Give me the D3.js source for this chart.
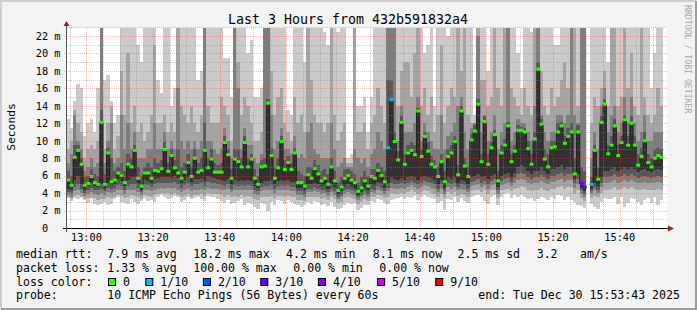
<!DOCTYPE html>
<html>
<head>
<meta charset="utf-8">
<script src="https://cdn.jsdelivr.net/npm/d3@7"></script>
<style>
  body { margin: 0; background: #fff; }
  svg text { font-family: "DejaVu Sans Mono", monospace; white-space: pre; }
</style>
</head>
<body>
<div id="chart"></div>
<script>
// smokeping style graph: 180 one-minute columns, 10 pings each
// median (= 6th sorted ping) plus the other pings as smoke bands

var med = [
  5.5,4.9,8.1,8.9,7.3,4.9,5.1,5.9,5.2,5.0,12.1,5.0,8.6,5.3,5.5,
  6.3,6.0,5.2,7.3,7.0,8.9,5.7,4.8,6.3,6.3,5.7,6.6,6.5,6.8,9.0,
  6.5,8.3,6.9,6.3,5.7,6.4,7.5,5.9,8.0,6.4,6.6,8.9,6.9,7.9,6.4,
  6.4,6.4,9.8,8.4,5.7,7.9,7.6,7.0,9.8,7.0,7.9,5.7,5.0,7.0,7.1,
  14.3,8.3,5.7,6.9,9.9,6.7,7.5,6.7,8.6,5.2,5.2,4.8,6.1,5.7,6.8,
  6.2,5.4,5.7,5.0,7.0,5.4,4.3,4.7,5.7,6.0,5.5,5.2,4.2,4.6,5.4,
  4.8,5.9,5.7,6.6,6.0,5.3,9.2,14.7,9.9,7.8,12.1,7.3,8.6,8.9,8.4,
  13.4,8.2,10.5,8.8,7.3,7.0,5.9,7.6,5.3,8.2,8.6,9.9,6.1,13.4,7.1,
  5.9,10.1,11.1,14.2,7.6,12.2,7.3,9.2,10.7,5.4,8.6,9.5,11.7,7.6,8.8,
  11.2,11.2,11.0,9.1,7.3,10.2,18.2,11.9,7.9,7.0,9.2,9.3,11.0,11.7,9.7,
  10.5,11.0,6.2,11.0,5.1,4.7,null,5.0,8.9,5.6,12.1,14.2,8.5,9.5,11.7,
  8.3,9.8,12.4,9.5,12.0,9.5,7.2,8.2,10.0,7.5,7.0,8.0,8.3,8.1,null
];

// upper pings: hi1 = slowest, hi4 = 7th
var hi1 = [
  12.5,11.5,14.5,16.5,16,10.5,12,12.5,11,16,28,17,17.5,14.5,12,
  13,25,25,25,25,25,21,19,25,25,25,25,17,15.5,25,
  25,14,16,25,25,25,25,25,25,17,18,25,25,25,25,
  25,25,19.5,19.5,15,25,25,25,25,20,21.5,15,15,16,25,
  25,25,25,25,25,25,13.5,13,25,25,25,19,25,25,25,
  25,25,22.5,21,25,25,22.5,25,25,8,8.5,28,14,14,15,
  11,15,25,25,25,25,28,28,28,25,25,25,25,25,25,
  25,25,20,21,25,14,25,25,25,22,25,25,25,25,25,
  25,25,13,25,25,25,18,25,25,25,25,25,25,25,25,
  20,16,25,25,22.5,28,28,28,25,25,25,21,21,25,25,
  25,28,25,25,28,28,null,25,25,25,25,25,19,25,25,
  25,25,25,25,25,25,25,25,25,25,16,20,25,25,null
];
var hi2 = [
  9,10,13.5,12,11,8,9,9.5,9,10,26,9,12,14,9,
  10.5,18,13,20,12,14,11,12,10,11,13,21,12,12,13,
  11,12,11,25,14,13,12,14,12,11,13,25,14,12,12,
  12,15,14,13,10,25,19,13,15,14,12,10,10,11,25,
  25,18,13,15,16,12,11,10,15,12,13,11,25,17,13,
  12,12,11,12,25,13,10,11,12,7.5,7.5,26,11,11,12,
  9,12,13,16,14,12,26,26,26,14,18,19,19,15,20,
  25,14,16,13,15,11,13,21,12,14,16,15,25,18,25,
  13,12,12,25,17,17,14,15,25,16,14,25,25,16,15,
  14,13,16,14,13,26,26,18,14,13,16,14,15,17,19,
  16,26,25,14,25,26,null,12,15,14,16,18,14,25,25,
  14,15,25,16,20,14,13,25,15,13,12,13,16,14,null
];
var hi3 = [
  7.5,8.5,12.9,10,9,6.5,7,8,7,7.5,24,7.5,10,12,7.5,
  8,13,9,12,9,11,8,8,8,9,9,12,9,9,11,
  9,10,9,16,10,9,10,9,10,9,10,24,10,10,9,
  8.5,9,11.5,10,8,25,16,9,11.5,9.5,9.5,8,7.5,8.5,24,
  24,13,9,10,11.5,9,9,8.5,10.5,8,8.5,8,11,12,9,
  8.5,8,8,8,12,9,7,7.5,8,7,7,9,8,7.5,8,
  7,8.5,9,11,10,9,24,24,24,10,14,11,11,11,12,
  15,10,12,11,10,9,9,13,9,10.5,11,12,14,15,11,
  9,11.5,12,22,11,13,10,11,13,9,11,12,24,10,11,
  12.5,12,12,11,10,14,24,13,11,10,11,11,13,13,12,
  13,24,13,12,24,24,null,8,11,9,14,16,11,13,14,
  11,12,15,12,15,12,10,11,13,10,10,11,11,11,null
];
var hi4 = [
  6.5,6,9.5,9.5,8,5.8,6,6.8,6.2,6,13.5,6.2,9.2,8,6.5,
  7,7.5,6.5,8.5,8,9.5,7,6,7,7.5,7,8,7.5,7.8,9.8,
  7.5,9,7.8,9,7,7.5,8.5,7,9,7.5,8,12,8,9,7.5,
  7.2,7.5,10.5,9,6.8,9,9,8,10.5,8,8.5,6.8,6,7.8,8,
  14.8,9.2,7,8,10.5,7.8,8.2,7.5,9.2,6.5,6.2,6,7,7,7.8,
  7.2,6.5,6.8,6.2,8,6.5,5.2,5.8,6.8,6.8,6.5,6.2,5.2,5.8,6.5,
  5.8,6.8,6.8,7.5,7,6.5,17,17,11,8.8,12.8,8.5,9.5,9.8,9.5,
  13.8,9,11,9.8,8.2,7.8,7,8.5,6.5,9,9.5,10.5,7.2,14,8,
  7,10.8,11.8,14.8,8.5,12.8,8.5,9.8,11.2,6.5,9.5,10.2,12.2,8.5,9.5,
  11.8,11.6,11.5,10,8.5,11,19,12.5,9,8.5,10,10,12,12.2,10.5,
  11.5,12,8,11.8,7,6.5,null,5.8,9.5,7,12.8,14.8,9.5,10.5,12.5,
  9.5,10.5,13,10.5,12.8,10.5,8.5,9.2,11,8.5,8,9,9.2,9,null
];

// lower pings: lo1 = fastest, lo5 = 5th
var lo5 = [
  4.5,4.3,5.5,6,5,4.4,4.8,5.2,4.8,4.7,5,4.5,5.2,4.9,5,
  5.6,5.4,4.8,5.5,5.8,5.8,5.1,4.4,5.6,5.4,5.2,5.6,5.7,5.8,5.8,
  5.8,5.7,6,5.7,5.1,5.5,5.8,5.3,5.6,5.6,5.7,5.4,6,5.8,5.7,
  5.6,5.5,5.4,5.6,5,5.5,5.4,5.5,5.4,5.5,5.4,4.8,4.6,5.2,5.4,
  5.4,5.5,5,5.4,5.5,5.4,5.5,5.3,5.3,4.6,4.6,4.3,5,5,5.2,
  5,4.8,4.9,4.5,5,4.7,3.9,4.2,4.8,5,4.8,4.6,3.8,4.1,4.6,
  4.3,5,4.9,5.3,5.1,4.6,5.2,5.8,5.6,5.5,5.7,5.5,5.8,6,5.8,
  5.5,5.8,6,5.9,5.7,5.5,5,5.5,4.6,5.8,5.6,5.8,5.2,5.5,5.4,
  5,5.9,6,6.2,5.8,6,5.6,6,6.2,4.7,6,6.2,6.3,5.9,6.3,
  7,7.2,7,6.5,6.2,6.5,6.5,7,6.5,6.2,6.8,6.8,7,7.2,6.8,
  7,7,5.6,6.2,4.6,4.2,null,4.5,5.2,4.8,5.8,6.5,6.5,6.8,7,
  6.5,6.8,7,6.8,7,6.8,6.4,6.6,6.8,6.5,6.4,6.6,6.8,6.6,null
];
var lo4 = [
  4.1,4,4.7,5,4.5,4,4.3,4.6,4.4,4.3,4.5,4.2,4.6,4.5,4.6,
  4.9,4.8,4.4,4.8,5,5,4.6,4.1,5,4.9,4.7,5,5.1,5.2,5.1,
  5.2,5.1,5.3,5,4.6,4.9,5.1,4.8,5,5,5.1,4.8,5.3,5.2,5.1,
  5,4.9,4.8,5,4.5,4.9,4.8,4.9,4.8,4.9,4.8,4.3,4.2,4.7,4.8,
  4.8,4.9,4.5,4.8,4.9,4.8,4.9,4.7,4.7,4.2,4.2,3.9,4.5,4.5,4.7,
  4.5,4.3,4.4,4.1,4.5,4.2,3.6,3.8,4.3,4.5,4.3,4.2,3.5,3.8,4.2,
  3.9,4.5,4.4,4.8,4.6,4.2,4.6,5.1,5,5,5.1,5,5.2,5.4,5.2,
  5,5.2,5.4,5.3,5.1,5,4.5,5,4.2,5.2,5,5.2,4.7,5,4.9,
  4.5,5.3,5.4,5.6,5.2,5.4,5,5.4,5.6,4.3,5.4,5.6,5.7,5.3,5.7,
  6.2,6.3,6.2,5.8,5.6,5.8,5.8,6.1,5.8,5.6,6,6,6.2,6.3,6,
  6.2,6.2,5.1,5.6,4.3,3.9,null,4.2,4.7,4.4,5.2,5.8,5.8,6,6.2,
  5.8,6,6.2,6,6.2,6,5.7,5.9,6,5.8,5.7,5.9,6,5.9,null
];
var lo3 = [
  3.8,3.6,4.2,4.4,4,3.7,3.9,4.1,3.9,3.8,4,3.8,4.1,4,4.1,
  4.3,4.3,3.9,4.3,4.4,4.4,4.1,3.8,4.4,4.3,4.2,4.4,4.5,4.6,4.5,
  4.6,4.5,4.6,4.4,4.1,4.3,4.5,4.2,4.4,4.4,4.5,4.3,4.6,4.5,4.5,
  4.5,4.4,4.3,4.5,4.1,4.4,4.3,4.4,4.3,4.3,4.3,3.9,3.8,4.2,4.3,
  4.3,4.4,4,4.3,4.4,4.3,4.4,4.2,4.2,3.8,3.8,3.6,4.1,4.1,4.2,
  4.1,3.9,4,3.7,4.1,3.8,3.3,3.5,3.9,4.1,3.9,3.8,3.2,3.5,3.8,
  3.6,4.1,4,4.4,4.2,3.9,4.2,4.6,4.5,4.5,4.6,4.5,4.7,4.9,4.7,
  4.5,4.7,4.9,4.8,4.6,4.5,4.1,4.5,3.9,4.7,4.5,4.7,4.3,4.5,4.4,
  4.1,4.8,4.9,5,4.7,4.9,4.5,4.9,5,3.9,4.9,5,5.1,4.8,5.1,
  5.5,5.6,5.5,5.2,5,5.2,5.2,5.4,5.2,5,5.3,5.3,5.5,5.6,5.3,
  5.5,5.5,4.6,5,3.9,3.6,null,3.9,4.3,4,4.7,5.2,5.2,5.3,5.5,
  5.2,5.3,5.5,5.3,5.5,5.3,5.1,5.2,5.3,5.2,5.1,5.2,5.3,5.2,null
];
var lo2 = [
  3.5,3.3,3.7,3.8,3.6,3.3,3.4,3.6,3.4,3.2,3.3,3.3,3.5,3.4,3.6,
  3.8,3.7,3.4,3.6,3.8,3.7,3.5,3.3,3.8,3.7,3.6,3.8,3.9,4,3.9,
  4,3.8,4,3.8,3.6,3.7,3.9,3.6,3.8,3.8,3.9,3.7,4,3.9,3.9,
  3.9,3.8,3.6,3.8,3.5,3.7,3.6,3.8,3.6,3.7,3.6,3.3,3.2,3.6,3.6,
  3.6,3.7,3.4,3.7,3.7,3.6,3.7,3.6,3.5,3.2,3.2,3.1,3.5,3.5,3.6,
  3.5,3.3,3.4,3.2,3.5,3.3,2.9,3,3.4,3.5,3.4,3.3,2.8,3,3.3,
  3.1,3.6,3.5,3.8,3.7,3.4,3.6,4,3.9,3.9,4,3.9,4.1,4.3,4.1,
  3.9,4.1,4.3,4.2,4,3.9,3.6,3.9,3.4,4.1,3.9,4.1,3.7,3.9,3.8,
  3.6,4.2,4.3,4.4,4.1,4.3,3.9,4.3,4.4,3.4,4.3,4.4,4.5,4.2,4.5,
  4.6,4.8,4.7,4.4,4.2,4.4,4.4,4.6,4.4,4.2,4.5,4.5,4.7,4.8,4.5,
  4.7,4.7,3.9,4.3,3.4,3.1,null,3.4,3.7,3.5,4,4.4,4.4,4.5,4.7,
  4.4,4.5,4.7,4.5,4.7,4.5,4.3,4.4,4.5,4.4,4.3,4.4,4.5,4.4,null
];
var lo1 = [
  3.4,3.1,3.4,3.3,3.5,3.2,2.9,3.3,2.8,2.6,2.7,3,2.6,2.8,3.3,
  3.5,3,2.9,2.7,3.3,3,2.8,3.1,3.4,3.1,3.2,3,3.6,3.8,3.6,
  3.3,3.4,3.7,3.5,3,3.2,3.6,3.3,3.4,3.5,3.3,3.1,3.7,3.6,3.6,
  3.3,3.1,2.9,3.2,2.8,2.9,3.1,3.3,2.6,2.9,2.7,2.4,2.2,2.9,2.8,
  2,3,2.6,3.2,3.1,2.7,3.2,3,2.8,2.6,2.4,2.6,3,2.8,3.1,
  3,2.6,2.8,2.5,3,2.4,2.2,2.3,2.6,2.9,2.7,2.9,2.1,2.3,2.6,
  2.6,3.1,3,3.3,3.2,2.9,2.8,3.2,3.3,3.4,3.5,3.3,3.6,3.4,3.7,
  3.2,3.5,3.8,3.6,3.4,3.3,2.9,3.1,2.1,3.3,3.2,3.5,3,3.4,3.1,
  2.9,3.6,3.7,3.8,3.5,3.1,2.7,3.5,3.8,2.6,3.6,3.9,4,3.4,3.8,
  3.6,3.8,3.5,3.3,3.4,3.1,3.3,3.5,3.4,3.2,3.6,3.3,3.8,3.7,3.2,
  3.6,3.2,3,2.6,2.5,2.3,null,2.8,2.4,2.2,3,3.4,3.3,3.3,3.6,
  2.7,3.5,2.4,2.9,3.4,3.3,3,2.6,3.2,3.4,2.9,3.5,2.6,3.2,null
];

// columns that lost pings: [column, lost out of 10]
var lossCols = [[96, 1], [97, 1], [154, 3], [155, 3], [156, 10], [157, 1]];

var lossLabels = ["0", "1/10", "2/10", "3/10", "4/10", "5/10", "9/10"];
var lossSteps = [0, 1, 2, 3, 4, 5, 9];
var lossColors = ["#26ff00", "#00b8ff", "#0059ff", "#5e00ff", "#7e00ff", "#dd00ff", "#ff0000"];

var yTicks = [0, 2, 4, 6, 8, 10, 12, 14, 16, 18, 20, 22];

var legendRtt = ["7.9 ms avg", "18.2 ms max", "4.2 ms min", "8.1 ms now", "2.5 ms sd", "3.2", "am/s"];
var legendLoss = ["1.33 % avg", "100.00 % max", "0.00 % min", "0.00 % now"];

var svgWidth = 697;
var svgHeight = 310;

var startTime = new Date(2025, 11, 30, 12, 53, 43);
var endTime = new Date(2025, 11, 30, 15, 53, 43);
var firstCol = new Date(2025, 11, 30, 12, 54, 0);

// canvas (white plot area)
var canvas = { left: 67, right: 667, top: 28, bottom: 228 };

var x = d3.scaleTime().domain([startTime, endTime]).range([65.5, 665.5]);
var y = d3.scaleLinear().domain([0, 23]).range([228, 27.3]);

var svg = d3.select("#chart")
  .append("svg")
  .attr("width", svgWidth)
  .attr("height", svgHeight);

// background and 3d frame
svg.append("rect").attr("width", svgWidth).attr("height", svgHeight).attr("fill", "#f3f3f3");
svg.append("path").attr("d", "M1,309V1H696").attr("fill", "none").attr("stroke", "#cfcfcf").attr("stroke-width", 2);
svg.append("path").attr("d", "M1,309H696V1").attr("fill", "none").attr("stroke", "#9c9c9c").attr("stroke-width", 2);

svg.append("rect")
  .attr("x", canvas.left).attr("y", canvas.top)
  .attr("width", canvas.right - canvas.left).attr("height", canvas.bottom - canvas.top)
  .attr("fill", "#ffffff");

svg.append("clipPath").attr("id", "clip")
  .append("rect")
  .attr("x", canvas.left).attr("y", canvas.top)
  .attr("width", canvas.right - canvas.left).attr("height", canvas.bottom - canvas.top);

var plotG = svg.append("g").attr("clip-path", "url(#clip)");

// build column objects
var lossOf = {};
lossCols.forEach(function(d) { lossOf[d[0]] = d[1]; });

var columns = med.map(function(m, i) {
  var t0 = d3.timeMinute.offset(firstCol, i);
  var t1 = d3.timeMinute.offset(firstCol, i + 1);
  var pings = [lo1[i], lo2[i], lo3[i], lo4[i], lo5[i], m, hi4[i], hi3[i], hi2[i], hi1[i]];
  var ok = pings.every(function(p) { return p !== null; });
  return {
    i: i,
    x0: x(t0),
    x1: x(t1),
    med: m,
    pings: ok ? pings.slice().sort(d3.ascending) : null,
    loss: lossOf[i] || 0
  };
});

// smoke: outer pair lightest, inner pair darkest
var shades = ["#cacaca", "#a4a4a4", "#7e7e7e", "#585858", "#323232"];
shades.forEach(function(color, k) {
  plotG.selectAll(".smoke" + k)
    .data(columns.filter(function(c) { return c.pings; }))
    .enter()
    .append("rect")
    .attr("x", function(c) { return c.x0; })
    .attr("width", function(c) { return c.x1 - c.x0 + 0.05; })
    .attr("y", function(c) { return y(c.pings[9 - k]); })
    .attr("height", function(c) { return y(c.pings[k]) - y(c.pings[9 - k]); })
    .attr("fill", color)
    .attr("shape-rendering", "crispEdges");
});

// grid, dotted, drawn over the smoke
var gridG = svg.append("g").attr("shape-rendering", "crispEdges");
var minorY = d3.range(1, 24).filter(function(v) { return v % 2 !== 0; });
var majorY = d3.range(2, 24, 2);
var minorX = d3.timeMinute.every(5).range(startTime, endTime)
  .filter(function(t) { return t.getMinutes() % 20 !== 0; });
var majorX = d3.timeMinute.every(20).range(startTime, endTime);

function px(v) { return Math.round(v) + 0.5; }

var minorColor = "rgba(140,140,140,0.45)";
var majorColor = "rgba(235,60,60,0.36)";

gridG.selectAll(".ymin").data(minorY).enter().append("line")
  .attr("x1", canvas.left).attr("x2", canvas.right)
  .attr("y1", function(d) { return px(y(d)); }).attr("y2", function(d) { return px(y(d)); })
  .attr("stroke", minorColor).attr("stroke-dasharray", "1,1");
gridG.selectAll(".xmin").data(minorX).enter().append("line")
  .attr("y1", canvas.top).attr("y2", canvas.bottom + 2)
  .attr("x1", function(d) { return px(x(d)); }).attr("x2", function(d) { return px(x(d)); })
  .attr("stroke", minorColor).attr("stroke-dasharray", "1,1");
gridG.selectAll(".ymaj").data(majorY).enter().append("line")
  .attr("x1", canvas.left - 3).attr("x2", canvas.right)
  .attr("y1", function(d) { return px(y(d)); }).attr("y2", function(d) { return px(y(d)); })
  .attr("stroke", majorColor).attr("stroke-dasharray", "1,1");
gridG.selectAll(".xmaj").data(majorX).enter().append("line")
  .attr("y1", canvas.top).attr("y2", canvas.bottom + 3)
  .attr("x1", function(d) { return px(x(d)); }).attr("x2", function(d) { return px(x(d)); })
  .attr("stroke", majorColor).attr("stroke-dasharray", "1,1");

// median line (black steps), then coloured median marks
var medPts = [];
columns.forEach(function(c) {
  medPts.push({ x: c.x0, v: c.med });
  medPts.push({ x: c.x1, v: c.med });
});
var medLine = d3.line()
  .defined(function(d) { return d.v !== null; })
  .x(function(d) { return d.x; })
  .y(function(d) { return y(d.v); });
plotG.append("path")
  .attr("d", medLine(medPts))
  .attr("fill", "none")
  .attr("stroke", "#202020")
  .attr("stroke-width", 1);

function lossColor(n) {
  var idx = 0;
  lossSteps.forEach(function(s, j) { if (n >= s) idx = j; });
  return lossColors[idx];
}

plotG.selectAll(".medmark")
  .data(columns.filter(function(c) { return c.med !== null; }))
  .enter()
  .append("rect")
  .attr("x", function(c) { return c.x0 - 0.2; })
  .attr("width", function(c) { return c.x1 - c.x0 + 0.6; })
  .attr("y", function(c) { return y(c.med) - 1.5; })
  .attr("height", 3)
  .attr("fill", function(c) { return lossColor(c.loss); });

// axes
svg.append("line").attr("x1", 63).attr("x2", 668).attr("y1", 228.5).attr("y2", 228.5)
  .attr("stroke", "#000");
svg.append("line").attr("x1", 66.5).attr("x2", 66.5).attr("y1", 232).attr("y2", 26)
  .attr("stroke", "#555");
svg.append("path").attr("d", "M668,225.5L674,228.5L668,231.5Z").attr("fill", "#a11d1d");
svg.append("path").attr("d", "M63.5,26L66.5,21L69.5,26Z").attr("fill", "#a11d1d");

// y axis labels
var yAxis = d3.axisLeft(y)
  .tickValues(yTicks)
  .tickSize(0)
  .tickPadding(6)
  .tickFormat(function(d) { return d === 0 ? "0\u00a0\u00a0" : d + " m"; });
var yAxisG = svg.append("g").attr("transform", "translate(66.5,0)").call(yAxis);
yAxisG.select(".domain").remove();
yAxisG.selectAll("text")
  .attr("font-family", "DejaVu Sans Mono")
  .attr("font-size", "10.3px")
  .attr("fill", "#000");

// x axis labels
svg.selectAll(".xlab").data(majorX).enter().append("text")
  .attr("x", function(d) { return x(d); })
  .attr("y", 241)
  .attr("text-anchor", "middle")
  .attr("font-size", "10.3px")
  .attr("fill", "#000")
  .text(d3.timeFormat("%H:%M"));

// title and side labels
svg.append("text")
  .attr("x", 348).attr("y", 24)
  .attr("text-anchor", "middle")
  .attr("font-size", "13.3px")
  .attr("fill", "#000")
  .text("Last 3 Hours from 432b591832a4");

svg.append("text")
  .attr("transform", "translate(15,127) rotate(-90)")
  .attr("text-anchor", "middle")
  .attr("font-size", "11.3px")
  .attr("fill", "#000")
  .text("Seconds");

svg.append("text")
  .attr("transform", "translate(685,5) rotate(90)")
  .attr("font-size", "8.2px")
  .attr("fill", "#a8a8a8")
  .text("RRDTOOL / TOBI OETIKER");

// legend
var legendG = svg.append("g").attr("font-size", "11.55px").attr("fill", "#000");
function legendText(xp, yp, s) {
  legendG.append("text").attr("x", xp).attr("y", yp).text(s);
}

legendText(16, 257.5, "median rtt:");
var rttX = [107.3, 193.3, 286, 372.7, 457.5, 536.7, 580];
legendRtt.forEach(function(s, j) { legendText(rttX[j], 257.5, s); });

legendText(16, 271.5, "packet loss:");
var lossX = [107.3, 193.3, 293.3, 379.3];
legendLoss.forEach(function(s, j) { legendText(lossX[j], 271.5, s); });

legendText(16, 285.5, "loss color:");
var boxX = [108.5, 145.8, 203.4, 260.8, 318.4, 377.6, 435.7];
lossLabels.forEach(function(s, j) {
  legendG.append("rect")
    .attr("x", boxX[j]).attr("y", 278.5)
    .attr("width", 7).attr("height", 7)
    .attr("fill", lossColors[j])
    .attr("stroke", "#000");
  legendText(boxX[j] + 14.5, 285.5, s);
});

legendText(16, 299, "probe:");
legendText(107.3, 299, "10 ICMP Echo Pings (56 Bytes) every 60s");
legendText(478.3, 299, "end: Tue Dec 30 15:53:43 2025");
</script>
</body>
</html>
